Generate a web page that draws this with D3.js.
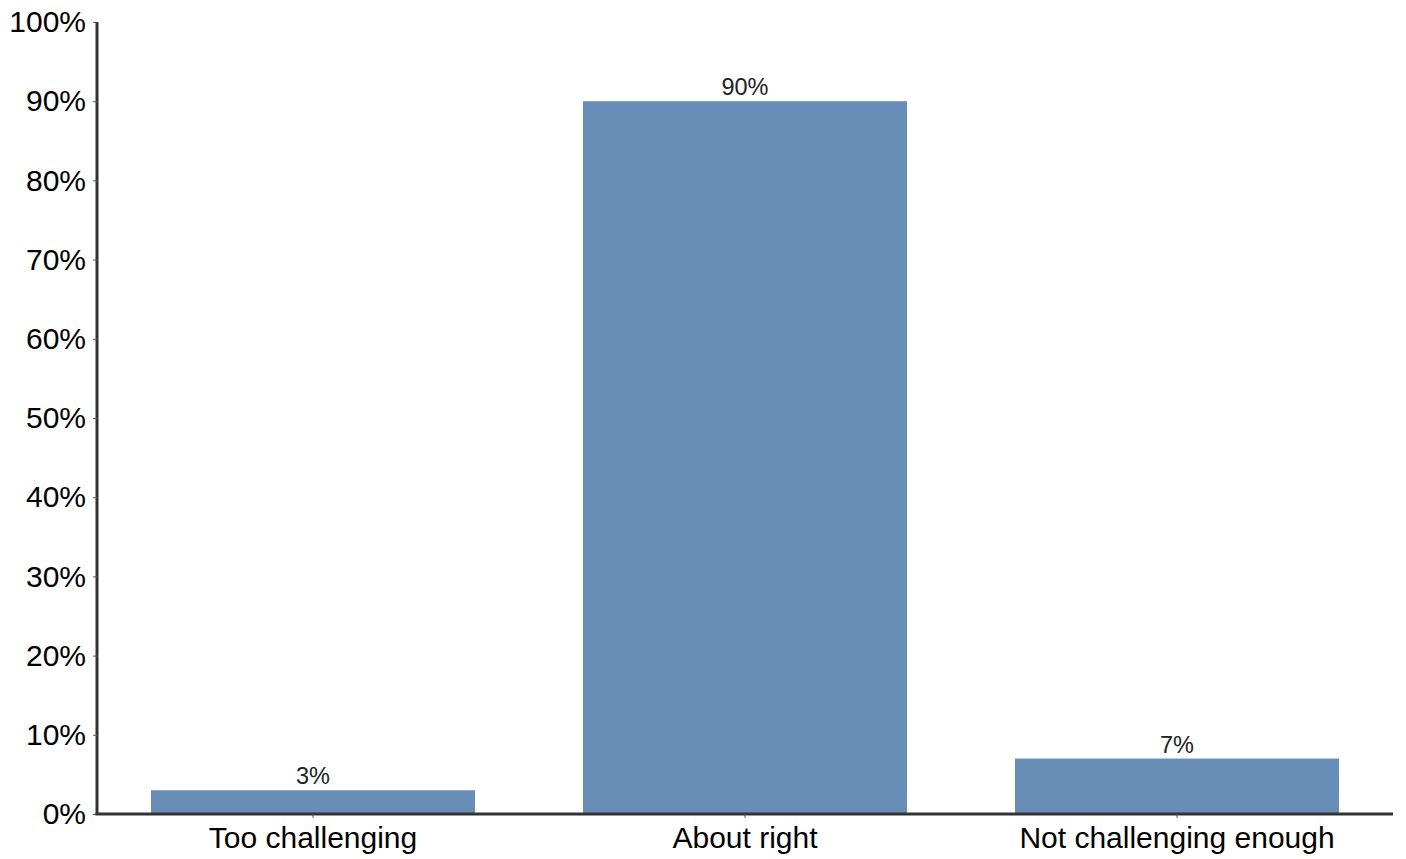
<!DOCTYPE html>
<html><head><meta charset="utf-8">
<script src="https://cdn.jsdelivr.net/npm/d3@7"></script>
<style>body{margin:0;background:#fff}svg{display:block}text{font-family:"Liberation Sans",Arial,sans-serif}</style>
</head><body>
<svg id="c" width="1406" height="859"></svg>
<script>
const categories = ["Too challenging", "About right", "Not challenging enough"];
const values = [3, 90, 7];
const yTicks = [0, 10, 20, 30, 40, 50, 60, 70, 80, 90, 100];

const svg = d3.select("#c");
const m = {left: 97, right: 13, top: 22, bottom: 45};
const W = 1406, H = 859;
const x = d3.scaleBand().domain(categories).range([m.left, W - m.right]).paddingInner(0.25).paddingOuter(0.125);
const y = d3.scaleLinear().domain([0, 100]).range([H - m.bottom, m.top]);

svg.selectAll("rect.bar").data(values).join("rect").attr("class", "bar")
  .attr("x", (d, i) => x(categories[i])).attr("width", x.bandwidth())
  .attr("y", d => y(d)).attr("height", d => y(0) - y(d)).attr("fill", "#688eb7");

svg.selectAll("text.val").data(values).join("text").attr("class", "val")
  .attr("x", (d, i) => x(categories[i]) + x.bandwidth() / 2).attr("y", d => y(d) - 6)
  .attr("text-anchor", "middle").attr("font-size", 23.5).attr("fill", "#222").text(d => d + "%");

const ya = svg.append("g").attr("transform", `translate(${m.left},0)`)
  .call(d3.axisLeft(y).tickValues(yTicks).tickFormat(d => d + "%").tickSize(4).tickPadding(7));
ya.select(".domain").attr("stroke", "#333").attr("stroke-width", 3).attr("d", `M0,${y(100)}V${y(0)}`);
ya.selectAll(".tick line").attr("stroke", "#555");
ya.selectAll(".tick text").attr("font-size", 30).attr("fill", "#000").attr("font-family", "Liberation Sans, Arial, sans-serif");

const xa = svg.append("g").attr("transform", `translate(0,${y(0)})`)
  .call(d3.axisBottom(x).tickSize(4).tickPadding(9));
xa.select(".domain").attr("stroke", "#333").attr("stroke-width", 3).attr("d", `M${m.left - 1.5},0H${W - m.right}`);
xa.selectAll(".tick line").attr("stroke", "#555");
xa.selectAll(".tick text").attr("font-size", 30).attr("fill", "#000").attr("font-family", "Liberation Sans, Arial, sans-serif");
</script>
</body></html>
